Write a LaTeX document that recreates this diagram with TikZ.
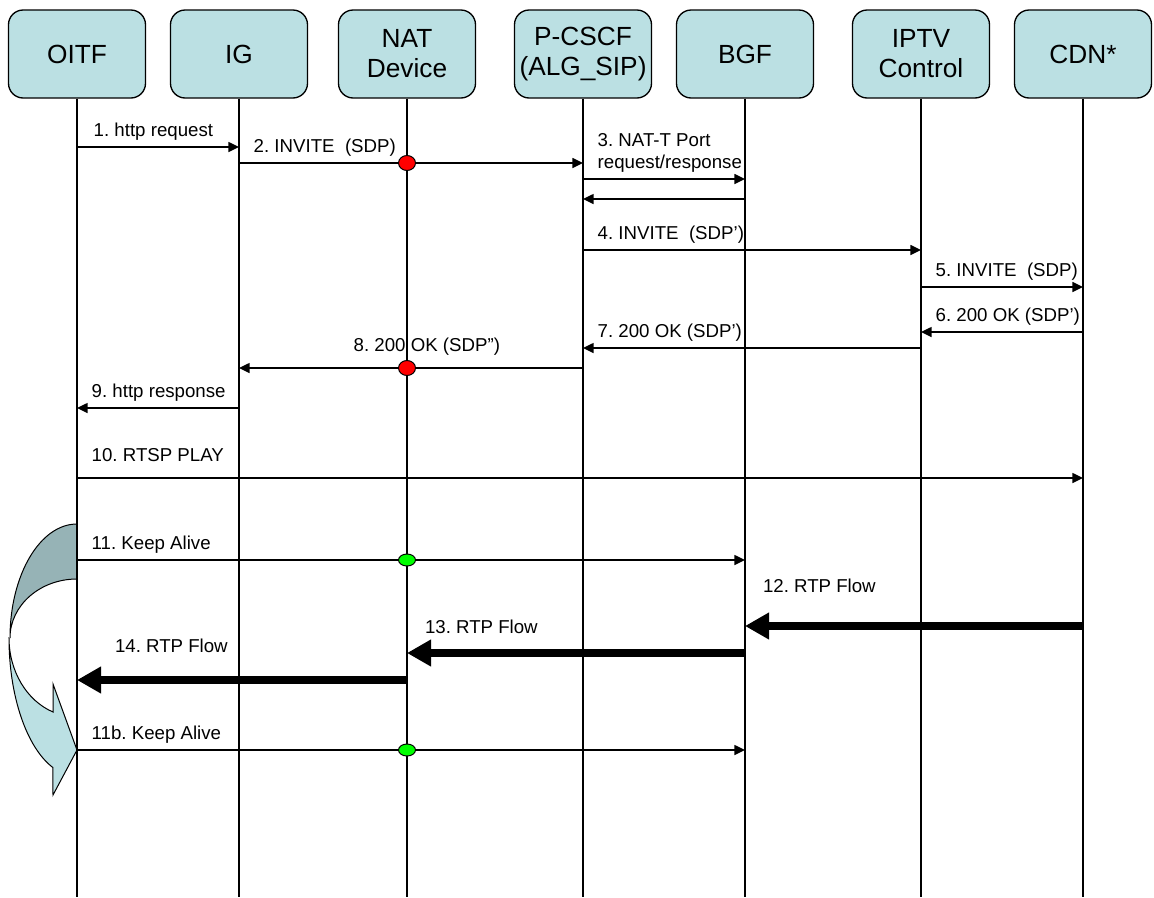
\documentclass[tikz,border=0pt]{standalone}
\usepackage{fontspec}
\setmainfont{Liberation Sans}
\usetikzlibrary{arrows.meta,positioning,shapes.geometric}
\frenchspacing

\definecolor{boxblue}{RGB}{187,224,227}
\definecolor{boxshade}{RGB}{150,179,182}

\tikzstyle{b} = [rectangle, rounded corners=11pt, minimum width=102.75pt, minimum height=66pt, text centered, align=center, draw=black, line width=1pt, fill=boxblue, font=\fontsize{19.7}{22.5}\selectfont]
\tikzstyle{msg} = [-{Triangle[length=8pt,width=7.5pt]}, line width=1.1pt]
\tikzstyle{flow} = [-{Triangle[length=18pt,width=19pt]}, line width=6pt]
\tikzstyle{lbl} = [anchor=base west, xshift=10.5pt, yshift=8.25pt, inner sep=0pt, align=left, font=\fontsize{14}{16.5}\selectfont]
\tikzstyle{dot} = [ellipse, draw=black, line width=0.75pt, inner sep=0pt, minimum width=12.75pt]

\begin{document}
\begin{tikzpicture}[-,auto,node distance=121.5pt,line width=1pt,x=0.75pt,y=-0.75pt]
\useasboundingbox (0,0) rectangle (1154,897);

\node[b] (oitf) at (77,54) {OITF};
\node[b] (ig) [right of=oitf] {IG};
\node[b] (nat) [right of=ig, xshift=4.5pt] {NAT\\Device};
\node[b] (pcscf) [right of=nat, xshift=10.5pt] {P-CSCF\\(ALG\_SIP)};
\node[b] (bgf) [right of=pcscf] {BGF};
\node[b] (iptv) [right of=bgf, xshift=10.5pt] {IPTV\\Control};
\node[b] (cdn) [right of=iptv] {CDN*};

\coordinate (bottom) at (0,897);
\coordinate (m1) at (0,147);
\coordinate (m2) at (0,163);
\coordinate (m3a) at (0,179);
\coordinate (m3b) at (0,199);
\coordinate (m4) at (0,250);
\coordinate (m5) at (0,287);
\coordinate (m6) at (0,332);
\coordinate (m7) at (0,348);
\coordinate (m8) at (0,368);
\coordinate (m9) at (0,408);
\coordinate (m10) at (0,478);
\coordinate (m11) at (0,560);
\coordinate (m12) at (0,626);
\coordinate (m13) at (0,653);
\coordinate (m14) at (0,680);
\coordinate (m11b) at (0,750);

% keep alive loop arrow
\fill[boxshade, draw=black, line width=0.75pt] (oitf |- 0,524)
  arc[start angle=270, end angle=180, x radius=67, y radius=114]
  arc[start angle=180, end angle=270, x radius=67, y radius=59] -- cycle;
\fill[boxblue, draw=black, line width=0.75pt] (9,638)
  arc[start angle=180, end angle=110.1, x radius=67, y radius=138]
  -- (53,795) -- (oitf |- m11b) -- (53,684) -- (53,712)
  arc[start angle=110.1, end angle=180, x radius=67, y radius=78.8] -- cycle;

\foreach \n in {oitf,ig,nat,pcscf,bgf,iptv,cdn}
  \draw (\n.south) -- (\n.south |- bottom);

\draw[msg] (oitf |- m1) -- (ig |- m1)
  node[pos=0, lbl, xshift=1.5pt] (l1) {1. http request};
\draw[msg] (ig |- m2) -- (pcscf |- m2)
  node[pos=0, lbl] (l2) {2. INVITE\ \ (SDP)};
\draw[msg] (pcscf |- m3a) -- (bgf |- m3a)
  node[pos=0, lbl] (l3) {3. NAT-T Port\\request/response};
\draw[msg] (bgf |- m3b) -- (pcscf |- m3b);
\draw[msg] (pcscf |- m4) -- (iptv |- m4)
  node[pos=0, lbl] (l4) {4. INVITE\ \ (SDP')};
\draw[msg] (iptv |- m5) -- (cdn |- m5)
  node[pos=0, lbl] (l5) {5. INVITE\ \ (SDP)};
\draw[msg] (cdn |- m6) -- (iptv |- m6)
  node[pos=1, lbl] (l6) {6. 200 OK (SDP')};
\draw[msg] (iptv |- m7) -- (pcscf |- m7)
  node[pos=1, lbl] (l7) {7. 200 OK (SDP')};
\draw[msg] (pcscf |- m8) -- (ig |- m8)
  node[pos=1, lbl, xshift=75pt, yshift=4.5pt] (l8) {8. 200 OK (SDP'')};
\draw[msg] (ig |- m9) -- (oitf |- m9)
  node[pos=1, lbl] (l9) {9. http response};
\draw[msg] (oitf |- m10) -- (cdn |- m10)
  node[pos=0, lbl, yshift=4.5pt] (l10) {10. RTSP PLAY};
\draw[msg] (oitf |- m11) -- (bgf |- m11)
  node[pos=0, lbl] (l11) {11. Keep Alive};
\draw[flow] (cdn |- m12) -- (bgf |- m12)
  node[pos=1, lbl, yshift=17.25pt] (l12) {12. RTP Flow};
\draw[flow] (bgf |- m13) -- (nat |- m13)
  node[pos=1, lbl, yshift=6.75pt] (l13) {13. RTP Flow};
\draw[flow] (nat |- m14) -- (oitf |- m14)
  node[pos=1, lbl, xshift=15pt, yshift=12.75pt] (l14) {14. RTP Flow};
\draw[msg] (oitf |- m11b) -- (bgf |- m11b)
  node[pos=0, lbl] (l11b) {11b. Keep Alive};

% NAT binding points
\node[dot, fill=red, minimum height=11.25pt] (d2) at (nat |- m2) {};
\node[dot, fill=red, minimum height=11.25pt] (d8) at (nat |- m8) {};
\node[dot, fill=green, minimum height=9pt] (d11) at (nat |- m11) {};
\node[dot, fill=green, minimum height=9pt] (d11b) at (nat |- m11b) {};

\end{tikzpicture}
\end{document}
